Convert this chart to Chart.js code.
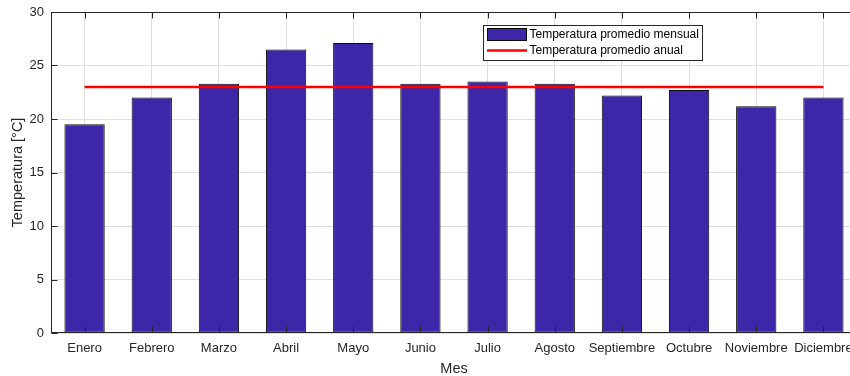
<!DOCTYPE html>
<html>
<head>
<meta charset="utf-8">
<script src="https://cdn.jsdelivr.net/npm/chart.js@4/dist/chart.umd.min.js"></script>
<style>
  html, body { margin: 0; padding: 0; background: #ffffff; overflow: hidden; width: 850px; height: 376px; }
  #wrap { width: 860px; height: 376px; }
</style>
</head>
<body>
<div id="wrap"><canvas id="grafico" width="860" height="376"></canvas></div>
<script>
// Meses del año
const meses = ['Enero', 'Febrero', 'Marzo', 'Abril', 'Mayo', 'Junio', 'Julio',
               'Agosto', 'Septiembre', 'Octubre', 'Noviembre', 'Diciembre'];

// Temperatura promedio de cada mes [°C]
const tempMensual = [19.5, 22.0, 23.3, 26.5, 27.1, 23.3, 23.5, 23.3, 22.2, 22.7, 21.2, 22.0];

// Temperatura promedio anual [°C], repetida en cada mes para trazar la línea
const tempAnual = [23.0, 23.0, 23.0, 23.0, 23.0, 23.0, 23.0, 23.0, 23.0, 23.0, 23.0, 23.0];

// Marcas del eje vertical
const marcasY = [0, 5, 10, 15, 20, 25, 30];

const FUENTE = '"Liberation Sans", Arial, Helvetica, sans-serif';
const EJE = '#262626';
const REJILLA = '#dfdfdf';

// Caja de ejes cerrada con marcas hacia adentro
const marcoEjes = {
  id: 'marcoEjes',
  afterDatasetsDraw(chart) {
    const { ctx, chartArea: a, scales } = chart;
    const L = Math.round(a.left) + 0.5, R = Math.round(a.right) - 0.5;
    const T = Math.round(a.top) + 0.5, B = Math.round(a.bottom) - 0.5;
    const largo = 6;
    ctx.save();
    ctx.strokeStyle = EJE;
    ctx.lineWidth = 1;
    ctx.beginPath();
    meses.forEach((m, i) => {
      const px = Math.round(scales.x.getPixelForValue(i)) + 0.5;
      ctx.moveTo(px, B); ctx.lineTo(px, B - largo);
      ctx.moveTo(px, T); ctx.lineTo(px, T + largo);
    });
    marcasY.forEach(v => {
      const py = Math.round(scales.y.getPixelForValue(v)) + 0.5;
      ctx.moveTo(L, py); ctx.lineTo(L + largo, py);
      ctx.moveTo(R, py); ctx.lineTo(R - largo, py);
    });
    ctx.stroke();
    ctx.strokeRect(L, T, R - L, B - T);
    ctx.restore();
  }
};

// Leyenda dentro del área de trazado
const leyenda = {
  id: 'leyenda',
  afterDraw(chart) {
    const { ctx } = chart;
    const caja = { x: 483, y: 25, w: 219, h: 35 };
    ctx.save();
    ctx.fillStyle = '#ffffff';
    ctx.fillRect(caja.x, caja.y, caja.w, caja.h);
    ctx.strokeStyle = EJE;
    ctx.lineWidth = 1;
    ctx.strokeRect(caja.x + 0.5, caja.y + 0.5, caja.w, caja.h);
    ctx.font = '12px ' + FUENTE;
    ctx.textBaseline = 'middle';
    ctx.textAlign = 'left';
    chart.data.datasets.forEach((ds, i) => {
      const cy = caja.y + 9.5 + i * 16;
      if (ds.type === 'line') {
        ctx.strokeStyle = ds.borderColor;
        ctx.lineWidth = ds.borderWidth;
        ctx.beginPath();
        ctx.moveTo(caja.x + 4, cy);
        ctx.lineTo(caja.x + 44, cy);
        ctx.stroke();
      } else {
        ctx.fillStyle = ds.backgroundColor;
        ctx.fillRect(caja.x + 4, cy - 6.5, 40, 13);
        ctx.strokeStyle = ds.borderColor;
        ctx.lineWidth = 1;
        ctx.strokeRect(caja.x + 4.5, cy - 6, 39, 12);
      }
      ctx.fillStyle = '#000000';
      ctx.fillText(ds.label, caja.x + 46.5, cy + 0.5);
    });
    ctx.restore();
  }
};

new Chart(document.getElementById('grafico'), {
  data: {
    labels: meses,
    datasets: [
      {
        type: 'bar',
        label: 'Temperatura promedio mensual',
        data: tempMensual,
        backgroundColor: '#3e26a8',
        borderColor: '#0a0a0a',
        borderWidth: 1,
        borderSkipped: false,
        barPercentage: 0.6,
        categoryPercentage: 1.0,
        order: 2
      },
      {
        type: 'line',
        label: 'Temperatura promedio anual',
        data: tempAnual,
        borderColor: '#ff0000',
        borderWidth: 2.5,
        pointRadius: 0,
        tension: 0,
        fill: false,
        order: 1
      }
    ]
  },
  options: {
    responsive: false,
    animation: false,
    devicePixelRatio: 1,
    layout: { padding: { top: 12, right: 3, left: 0, bottom: 0 } },
    plugins: {
      legend: { display: false },
      tooltip: { enabled: false }
    },
    scales: {
      x: {
        type: 'category',
        offset: true,
        grid: { display: true, offset: false, color: REJILLA, drawTicks: false },
        border: { display: false },
        ticks: { color: EJE, padding: 8, font: { family: FUENTE, size: 13 }, maxRotation: 0, autoSkip: false },
        title: {
          display: true, text: 'Mes', color: EJE,
          font: { family: FUENTE, size: 14.5, lineHeight: 1 },
          padding: { top: 0, bottom: 0 }
        },
        afterFit(s) { s.height = 43; s.paddingLeft = 0; s.paddingRight = 0; }
      },
      y: {
        min: 0, max: 30,
        grid: { color: REJILLA, drawTicks: false },
        border: { display: false },
        afterBuildTicks(s) { s.ticks = marcasY.map(v => ({ value: v })); },
        ticks: { color: EJE, padding: 7, font: { family: FUENTE, size: 13 } },
        title: {
          display: true, text: 'Temperatura [°C]', color: EJE,
          font: { family: FUENTE, size: 14.5, lineHeight: 1 },
          padding: { top: 11, bottom: 0 }
        },
        afterFit(s) { s.width = 51; s.paddingTop = 0; s.paddingBottom = 0; }
      }
    }
  },
  plugins: [marcoEjes, leyenda]
});
</script>
</body>
</html>
